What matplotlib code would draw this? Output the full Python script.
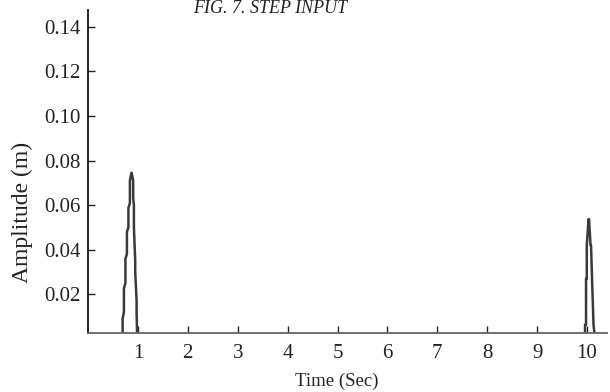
import matplotlib.pyplot as plt

# pulse near t = 1 s (stepped edges)
t1 = [0.69, 0.694, 0.694, 0.72, 0.72, 0.75, 0.75, 0.78, 0.78, 0.81, 0.81, 0.84, 0.84,
      0.87, 0.875, 0.905, 0.906, 0.92, 0.92, 0.946, 0.946, 0.974, 0.974, 0.986, 0.99]
a1 = [0.0, 0.0, 0.009, 0.012, 0.0226, 0.025, 0.036, 0.038, 0.048, 0.050, 0.0587, 0.061, 0.071,
      0.0745, 0.0745, 0.071, 0.063, 0.060, 0.050, 0.035, 0.030, 0.017, 0.012, 0.0, 0.0]

# pulse near t = 10 s
t2 = [9.95, 9.96, 9.96, 9.98, 9.98, 9.995, 9.995, 10.03, 10.04, 10.07, 10.08, 10.1, 10.1,
      10.13, 10.13, 10.16, 10.17]
a2 = [0.0, 0.0, 0.0063, 0.0063, 0.027, 0.027, 0.042, 0.0537, 0.0537, 0.042, 0.042, 0.027, 0.027,
      0.0063, 0.0063, 0.0, 0.0]

xticks = [1, 2, 3, 4, 5, 6, 7, 8, 9, 10]
yticks = [0.02, 0.04, 0.06, 0.08, 0.10, 0.12, 0.14]

plt.rcParams['font.family'] = ['Liberation Serif', 'DejaVu Serif']

fig = plt.figure(figsize=(6.1, 3.92), dpi=100)
ax = fig.add_axes([88 / 610, 1 - 333 / 392, (607 - 88) / 610, (333 - 10) / 392])

ax.plot(t1, a1, color='#3a3a3a', lw=1.8)
ax.plot(t2, a2, color='#3a3a3a', lw=1.8)

ax.set_xlim(0, 10.4)
ax.set_ylim(0.0026, 0.1476)
ax.set_xticks(xticks)
ax.set_xticklabels([str(v) for v in xticks])
ax.set_yticks(yticks)
ax.set_yticklabels([f'{v:.2f}' for v in yticks])
ax.tick_params(direction='in', length=5, width=1, labelsize=15, colors='#222222')
ax.tick_params(axis='x', pad=8)
ax.tick_params(axis='y', pad=5)

for s in ['top', 'right']:
    ax.spines[s].set_visible(False)
ax.spines['left'].set_linewidth(1.3)
ax.spines['left'].set_color('#111111')
ax.spines['bottom'].set_linewidth(1.3)
ax.spines['bottom'].set_color('#666666')

# axis labels placed where they sit in the original
fig.text(337 / 610, 1 - 381 / 392, 'Time (Sec)', ha='center', va='center',
         fontsize=13.5, color='#222222')
fig.text(22 / 610, 1 - 212 / 392, 'Amplitude (m)', ha='center', va='center',
         rotation=90, fontsize=17, color='#222222')

fig.text(270 / 610, 1 - 13 / 392, 'FIG. 7. STEP INPUT', ha='center', va='baseline',
         fontsize=13, style='italic', color='#222222')

fig.savefig('out.png', dpi=100)
